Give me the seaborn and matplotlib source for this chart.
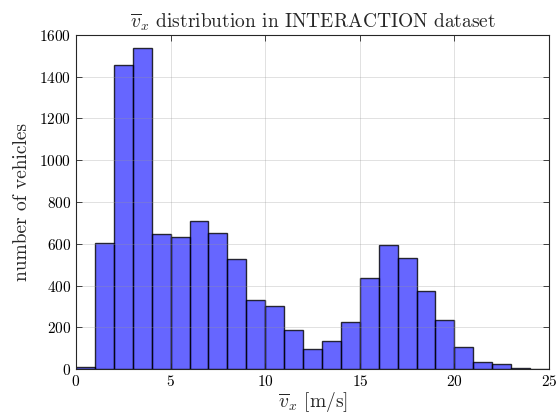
import numpy as np
import matplotlib
matplotlib.use("Agg")
import matplotlib.pyplot as plt
import seaborn as sns

bin_edges = list(range(0, 26))
counts = [11, 605, 1455, 1540, 648, 632, 710, 651, 527, 331, 302, 188, 98,
          135, 225, 435, 595, 532, 376, 233, 105, 35, 22, 6, 2]
centers = [e + 0.5 for e in bin_edges[:-1]]
x_ticks = [0, 5, 10, 15, 20, 25]
y_ticks = [0, 200, 400, 600, 800, 1000, 1200, 1400, 1600]

sns.set_theme(style="white")
plt.rcParams['font.family'] = ['cmr10']
plt.rcParams['mathtext.fontset'] = 'cm'
plt.rcParams['axes.formatter.use_mathtext'] = True

fig = plt.figure(figsize=(5.59, 4.2), dpi=100)
ax = fig.add_axes([0.136, 0.1214, 0.846, 0.7953])

sns.histplot(x=centers, weights=counts, bins=bin_edges, ax=ax,
             color=(0, 0, 1), alpha=0.6, edgecolor=(0, 0, 0, 0.8),
             linewidth=1.0, zorder=2)

ax.set_xlim(0, 25)
ax.set_ylim(0, 1600)
ax.set_xticks(x_ticks)
ax.set_yticks(y_ticks)
ax.set_axisbelow(False)
ax.grid(True, color=(0.6, 0.6, 0.6), alpha=0.3, linewidth=0.7)
for s in ax.spines.values():
    s.set_color((0.15, 0.15, 0.15))
    s.set_linewidth(0.8)
    s.set_zorder(3)
ax.tick_params(direction='in', top=True, right=True, bottom=True, left=True,
               length=4, width=0.6, labelsize=11, colors=(0.15, 0.15, 0.15),
               labelcolor='black')
ax.set_xlabel(r'$\overline{v}_x$ [m/s]', fontsize=14, labelpad=1)
ax.set_ylabel('number of vehicles', fontsize=14, labelpad=6)
ax.set_title(r'$\overline{v}_x$ distribution in INTERACTION dataset', fontsize=14, pad=5)

fig.savefig('out.png', dpi=100)
